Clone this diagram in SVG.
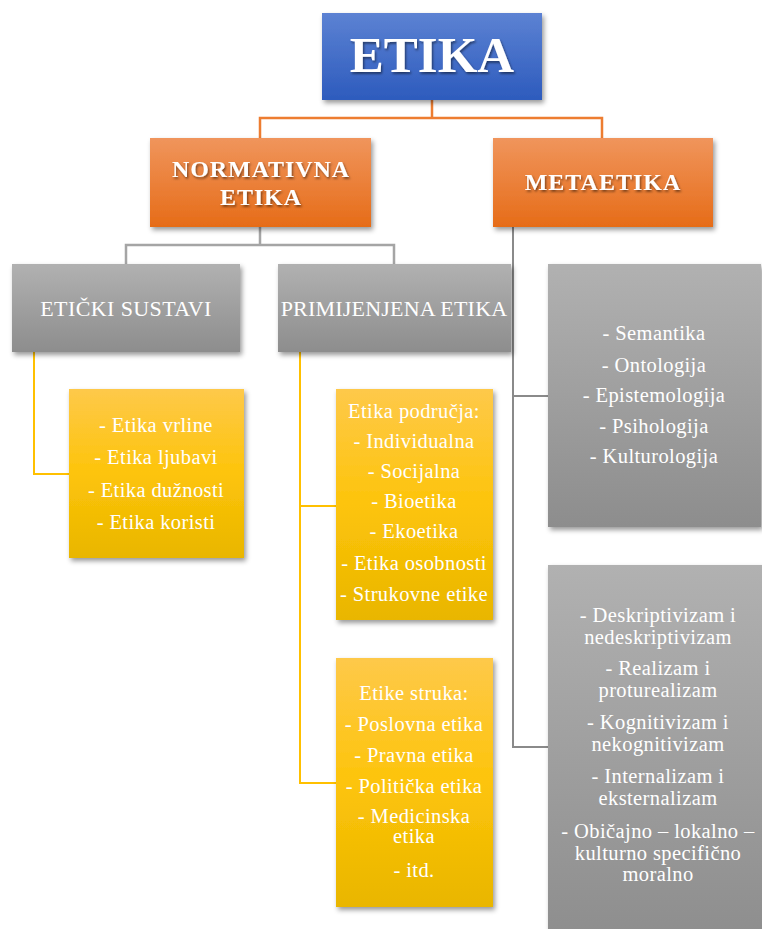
<svg xmlns="http://www.w3.org/2000/svg" width="762" height="929" viewBox="0 0 762 929">
<style>
.t{font-family:"Liberation Serif",serif;fill:#fff;text-anchor:middle}
.title{font-weight:bold;filter:url(#ts)}
.lst{font-size:20.5px;letter-spacing:0.4px}
.cn{fill:none;stroke-linejoin:miter}
</style>
<defs>
<linearGradient id="gBlue" x1="0" y1="0" x2="0" y2="1"><stop offset="0" stop-color="#5c82d3"/><stop offset="1" stop-color="#2d5bbd"/></linearGradient>
<linearGradient id="gOrange" x1="0" y1="0" x2="0" y2="1"><stop offset="0" stop-color="#f0955c"/><stop offset="1" stop-color="#e66c18"/></linearGradient>
<linearGradient id="gGray" x1="0" y1="0" x2="0" y2="1"><stop offset="0" stop-color="#b1b1b1"/><stop offset="1" stop-color="#8d8d8d"/></linearGradient>
<linearGradient id="gYellow" x1="0" y1="0" x2="0" y2="1"><stop offset="0" stop-color="#fec94a"/><stop offset="0.5" stop-color="#fdc40a"/><stop offset="1" stop-color="#e9b600"/></linearGradient>
<filter id="sh" x="-10%" y="-10%" width="125%" height="125%"><feDropShadow dx="2" dy="3" stdDeviation="2.5" flood-color="#000" flood-opacity="0.4"/></filter>
<filter id="ts" x="-10%" y="-20%" width="120%" height="150%"><feDropShadow dx="1.2" dy="1.8" stdDeviation="1" flood-color="#000" flood-opacity="0.5"/></filter>
</defs>
<g id="connectors">
<path class="cn" d="M432,100 V118 M260,138 V118 H602 V138" stroke="#ed7d31" stroke-width="2.5"/>
<path class="cn" d="M260,227 V245 M126,264 V245 H394 V264" stroke="#a5a5a5" stroke-width="2.5"/>
<path class="cn" d="M513,227 V747 H548 M513,396 H548" stroke="#8a8a8a" stroke-width="2"/>
<path class="cn" d="M34,352 V474 H69" stroke="#ffc000" stroke-width="2"/>
<path class="cn" d="M300,352 V783 H336 M300,506 H336" stroke="#ffc000" stroke-width="2"/>
</g>
<g id="etika">
<rect x="322" y="13" width="220" height="87" fill="url(#gBlue)" filter="url(#sh)"/>
<text class="t title" x="432" y="72" font-size="51">ETIKA</text>
</g>
<g id="normativna">
<rect x="150" y="138" width="221" height="89" fill="url(#gOrange)" filter="url(#sh)"/>
<text class="t title" x="261" y="177" font-size="24" letter-spacing="0.9">NORMATIVNA</text>
<text class="t title" x="261" y="205" font-size="24" letter-spacing="0.9">ETIKA</text>
</g>
<g id="metaetika">
<rect x="493" y="138" width="220" height="89" fill="url(#gOrange)" filter="url(#sh)"/>
<text class="t title" x="603" y="190" font-size="24" letter-spacing="1">METAETIKA</text>
</g>
<g id="eticki">
<rect x="12" y="264" width="228" height="88" fill="url(#gGray)" filter="url(#sh)"/>
<text class="t" x="126" y="316" font-size="22" letter-spacing="0.4">ETIČKI SUSTAVI</text>
</g>
<g id="primijenjena">
<rect x="278" y="264" width="233" height="88" fill="url(#gGray)" filter="url(#sh)"/>
<text class="t" x="394" y="316" font-size="22" letter-spacing="0.2">PRIMIJENJENA ETIKA</text>
</g>
<g id="sustavi-lista">
<rect x="69" y="389" width="175" height="169" fill="url(#gYellow)" filter="url(#sh)"/>
<text class="t lst" x="156" y="432">- Etika vrline</text>
<text class="t lst" x="156" y="464">- Etika ljubavi</text>
<text class="t lst" x="156" y="497">- Etika dužnosti</text>
<text class="t lst" x="156" y="529">- Etika koristi</text>
</g>
<g id="podrucja">
<rect x="336" y="389" width="157" height="231" fill="url(#gYellow)" filter="url(#sh)"/>
<text class="t lst" x="414" y="418">Etika područja:</text>
<text class="t lst" x="414" y="448">- Individualna</text>
<text class="t lst" x="414" y="478">- Socijalna</text>
<text class="t lst" x="414" y="508">- Bioetika</text>
<text class="t lst" x="414" y="538">- Ekoetika</text>
<text class="t lst" x="414" y="570">- Etika osobnosti</text>
<text class="t lst" x="414" y="601">- Strukovne etike</text>
</g>
<g id="struke">
<rect x="336" y="658" width="157" height="249" fill="url(#gYellow)" filter="url(#sh)"/>
<text class="t lst" x="414" y="700">Etike struka:</text>
<text class="t lst" x="414" y="731">- Poslovna etika</text>
<text class="t lst" x="414" y="762">- Pravna etika</text>
<text class="t lst" x="414" y="793">- Politička etika</text>
<text class="t lst" x="414" y="823">- Medicinska</text>
<text class="t lst" x="414" y="843">etika</text>
<text class="t lst" x="414" y="877">- itd.</text>
</g>
<g id="meta-podrucja">
<rect x="548" y="264" width="213" height="263" fill="url(#gGray)" filter="url(#sh)"/>
<text class="t lst" x="654" y="340">- Semantika</text>
<text class="t lst" x="654" y="372">- Ontologija</text>
<text class="t lst" x="654" y="402">- Epistemologija</text>
<text class="t lst" x="654" y="433">- Psihologija</text>
<text class="t lst" x="654" y="463">- Kulturologija</text>
</g>
<g id="meta-teorije">
<rect x="548" y="565" width="220" height="380" fill="url(#gGray)" filter="url(#sh)"/>
<text class="t lst" x="658" y="622">- Deskriptivizam i</text>
<text class="t lst" x="658" y="644">nedeskriptivizam</text>
<text class="t lst" x="658" y="675">- Realizam i</text>
<text class="t lst" x="658" y="697">proturealizam</text>
<text class="t lst" x="658" y="729">- Kognitivizam i</text>
<text class="t lst" x="658" y="751">nekognitivizam</text>
<text class="t lst" x="658" y="783">- Internalizam i</text>
<text class="t lst" x="658" y="805">eksternalizam</text>
<text class="t lst" x="658" y="838">- Običajno – lokalno –</text>
<text class="t lst" x="658" y="860">kulturno specifično</text>
<text class="t lst" x="658" y="881">moralno</text>
</g>
</svg>
